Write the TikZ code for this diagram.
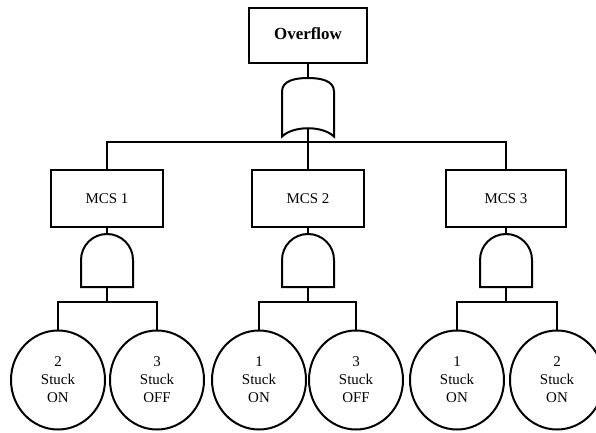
\documentclass[tikz,border=0pt]{standalone}
\usepackage{fontspec}
\setmainfont{Liberation Serif}
\usetikzlibrary{shapes.geometric}
\newcommand\myandgate[2]{%
  \draw (#1-26,287.5) -- (#1-26,260.5) .. controls (#1-26,246.1) and (#1-14.4,234.5) .. (#1,234.5)
        .. controls (#1+14.4,234.5) and (#1+26,246.1) .. (#1+26,260.5) -- (#1+26,287.5) -- cycle;
  \coordinate (#2in) at (#1,234.5);
  \coordinate (#2out) at (#1,287.5);
}
\begin{document}
\begin{tikzpicture}[x=1bp,y=-1bp, line width=2bp,
  box/.style={draw, rectangle, minimum width=112bp, minimum height=57bp, inner sep=0pt,
              font=\rmfamily\fontsize{15}{18}\selectfont},
  event/.style={draw, ellipse, minimum width=94bp, minimum height=99bp, inner sep=0pt,
                align=center, font=\rmfamily\fontsize{15}{18}\selectfont}]
\useasboundingbox (0,0) rectangle (596,433);
\begin{scope}[xshift=-0.5bp, yshift=0.5bp]
% top event
\node[box, minimum width=118bp, minimum height=55bp, font=\rmfamily\bfseries\fontsize{17}{20}\selectfont]
  (top) at (308.5,36) {\raisebox{4pt}{Overflow}};

% OR gate
\draw (282.5,137) -- (282.5,92) .. controls (282.5,81) and (296,78.5) .. (308.5,78.5)
      .. controls (321,78.5) and (334.5,81) .. (334.5,92) -- (334.5,137)
      .. controls (323,126) and (294,126) .. (282.5,137) -- cycle;
\coordinate (orin) at (308.5,78.5);
\coordinate (orout) at (308.5,128.5);
\coordinate (busL) at (107.5,142.5);
\coordinate (busR) at (506.5,142.5);

% MCS boxes
\node[box] (mcs1) at (107.5,199) {MCS 1};
\node[box] (mcs2) at (308.5,199) {MCS 2};
\node[box, minimum width=120bp] (mcs3) at (506.5,199) {MCS 3};

% AND gates
\myandgate{107.5}{andA}
\myandgate{308.5}{andB}
\myandgate{506.5}{andC}

% basic events
\node[event] (e1a) at (58.5,380.5) {2\\Stuck\\ON};
\node[event] (e1b) at (157.5,380.5) {3\\Stuck\\OFF};
\node[event] (e2a) at (259.5,380.5) {1\\Stuck\\ON};
\node[event] (e2b) at (356.5,380.5) {3\\Stuck\\OFF};
\node[event] (e3a) at (457.5,380.5) {1\\Stuck\\ON};
\node[event] (e3b) at (557.5,380.5) {2\\Stuck\\ON};

\coordinate (j1) at (107.5,302.5);
\coordinate (j2) at (308.5,302.5);
\coordinate (j3) at (506.5,302.5);

% connectors
\draw (top.south) -- (orin);
\draw (orout) -- (mcs2.north);
\draw (mcs1.north) -- (busL) -- (busR) -- (mcs3.north);

\draw (mcs1.south) -- (andAin);
\draw (mcs2.south) -- (andBin);
\draw (mcs3.south) -- (andCin);

\draw (andAout) -- (j1);
\draw (andBout) -- (j2);
\draw (andCout) -- (j3);

\draw (e1a.north) |- (j1) -| (e1b.north);
\draw (e2a.north) |- (j2) -| (e2b.north);
\draw (e3a.north) |- (j3) -| (e3b.north);
\end{scope}
\end{tikzpicture}
\end{document}
